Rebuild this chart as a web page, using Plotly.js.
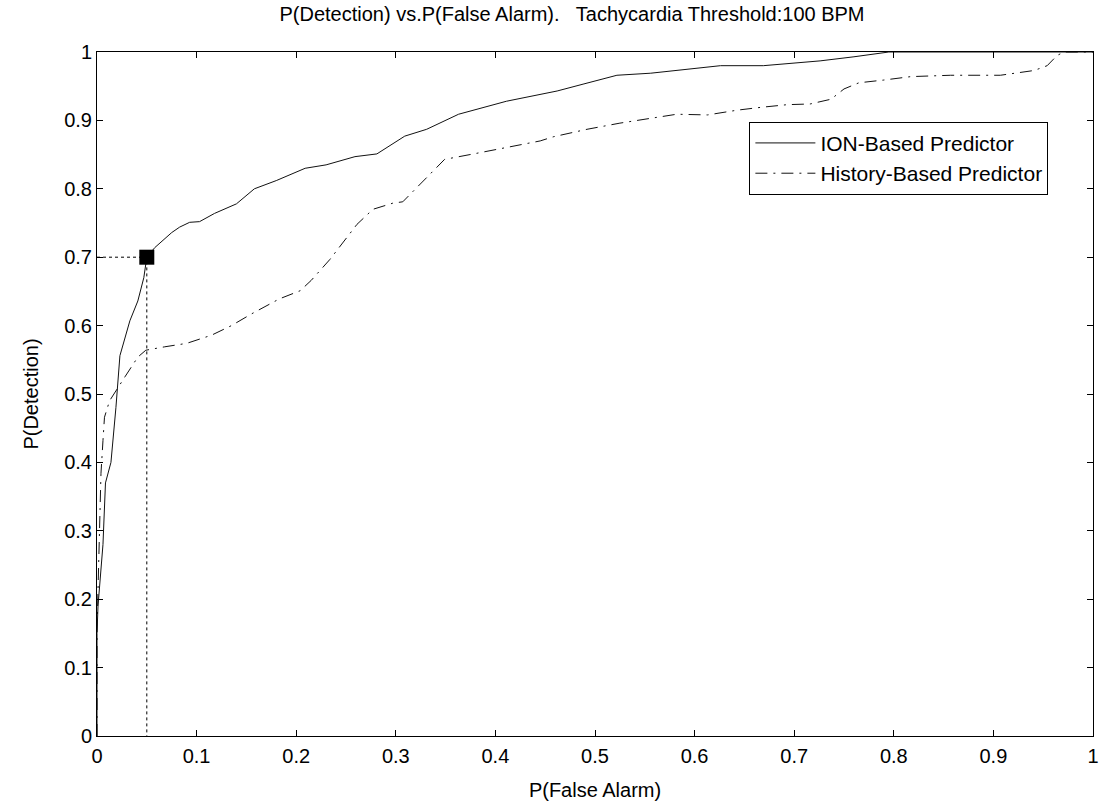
<!DOCTYPE html>
<html>
<head>
<meta charset="utf-8">
<script src="https://cdn.plot.ly/plotly-3.0.1.min.js"></script>
<style>html,body{margin:0;padding:0;background:#fff;}</style>
</head>
<body>
<div id="chart" style="width:1100px;height:804px;"></div>
<script>
// ION-Based Predictor (solid)
const ionX = [0, 0, 0.001, 0.004, 0.006, 0.0085, 0.014, 0.019, 0.023, 0.033, 0.041, 0.047, 0.05, 0.058, 0.075, 0.083, 0.093, 0.103, 0.118, 0.14, 0.158, 0.18, 0.209, 0.23, 0.259, 0.281, 0.309, 0.331, 0.363, 0.411, 0.445, 0.462, 0.488, 0.522, 0.556, 0.626, 0.669, 0.726, 0.76, 0.795, 1.0];
const ionY = [0, 0.15, 0.19, 0.24, 0.28, 0.37, 0.40, 0.48, 0.556, 0.607, 0.636, 0.67, 0.70, 0.714, 0.736, 0.744, 0.751, 0.752, 0.764, 0.778, 0.80, 0.812, 0.83, 0.835, 0.847, 0.851, 0.877, 0.887, 0.909, 0.928, 0.938, 0.943, 0.953, 0.966, 0.969, 0.98, 0.98, 0.987, 0.993, 1.0, 1.0];
// History-Based Predictor (dash-dot)
const histX = [0, 0, 0.001, 0.0025, 0.004, 0.006, 0.0075, 0.0126, 0.019, 0.028, 0.041, 0.049, 0.068, 0.09, 0.115, 0.135, 0.155, 0.183, 0.204, 0.215, 0.234, 0.261, 0.277, 0.297, 0.307, 0.328, 0.349, 0.378, 0.411, 0.445, 0.458, 0.492, 0.525, 0.559, 0.582, 0.613, 0.643, 0.666, 0.693, 0.716, 0.737, 0.75, 0.765, 0.79, 0.817, 0.857, 0.907, 0.941, 0.954, 0.964, 0.971, 1.0];
const histY = [0, 0.15, 0.213, 0.30, 0.384, 0.432, 0.466, 0.49, 0.505, 0.525, 0.554, 0.564, 0.569, 0.574, 0.586, 0.60, 0.617, 0.639, 0.651, 0.666, 0.697, 0.748, 0.77, 0.779, 0.781, 0.812, 0.843, 0.851, 0.86, 0.87, 0.876, 0.887, 0.896, 0.904, 0.909, 0.908, 0.915, 0.919, 0.923, 0.924, 0.931, 0.946, 0.955, 0.959, 0.964, 0.966, 0.966, 0.973, 0.98, 0.995, 1.0, 1.0];
// Operating point
const opX = [0.05];
const opY = [0.70];
const guideX = [0, 0.05, 0.05];
const guideY = [0.70, 0.70, 0];
const xTicks = [0, 0.1, 0.2, 0.3, 0.4, 0.5, 0.6, 0.7, 0.8, 0.9, 1];
const yTicks = [0, 0.1, 0.2, 0.3, 0.4, 0.5, 0.6, 0.7, 0.8, 0.9, 1];
const xTickText = ['0', '0.1', '0.2', '0.3', '0.4', '0.5', '0.6', '0.7', '0.8', '0.9', '1'];
const yTickText = ['0', '0.1', '0.2', '0.3', '0.4', '0.5', '0.6', '0.7', '0.8', '0.9', '1'];

const FONT = 'Liberation Sans, Arial, sans-serif';

const traces = [
  {x: guideX, y: guideY, mode: 'lines', showlegend: false, hoverinfo: 'skip',
   line: {color: '#000', width: 1, dash: '3px,3px'}},
  {x: ionX, y: ionY, mode: 'lines', name: 'ION-Based Predictor',
   line: {color: '#111', width: 1}},
  {x: histX, y: histY, mode: 'lines', name: 'History-Based Predictor',
   line: {color: '#111', width: 1, dash: '12px,6px,2px,6px'}},
  {x: opX, y: opY, mode: 'markers', showlegend: false,
   marker: {symbol: 'square', size: 15, color: '#000'}}
];

const axisCommon = {
  range: [0, 1], showgrid: false, zeroline: false,
  showline: true, linecolor: '#000', linewidth: 1, mirror: 'ticks',
  ticks: 'inside', ticklen: 6, tickcolor: '#000', tickwidth: 1,
  tickfont: {family: FONT, size: 20, color: '#000'}, tickmode: 'array'
};

const layout = {
  width: 1100, height: 804,
  paper_bgcolor: '#fff', plot_bgcolor: '#fff',
  margin: {l: 97, r: 7, t: 52, b: 68},
  font: {family: FONT, color: '#000'},
  title: {text: 'P(Detection) vs.P(False Alarm).\u00a0\u00a0 Tachycardia Threshold:100 BPM',
          font: {family: FONT, size: 20, color: '#000'}, x: 0.52, xref: 'container', y: 0.982, yanchor: 'middle'},
  xaxis: Object.assign({}, axisCommon, {tickvals: xTicks, ticktext: xTickText, ticklabelstandoff: 2,
          title: {text: 'P(False Alarm)', font: {family: FONT, size: 20, color: '#000'}, standoff: 16}}),
  yaxis: Object.assign({}, axisCommon, {tickvals: yTicks, ticktext: yTickText,
          title: {text: 'P(Detection)', font: {family: FONT, size: 20, color: '#000'}, standoff: 20}}),
  showlegend: true,
  legend: {x: 0.655, y: 0.898, xanchor: 'left', yanchor: 'top', itemwidth: 60,
           bgcolor: '#fff', bordercolor: '#000', borderwidth: 1,
           font: {family: FONT, size: 21, color: '#000'}, tracegroupgap: 0}
};

Plotly.newPlot('chart', traces, layout, {displayModeBar: false, staticPlot: true});
</script>
</body>
</html>
